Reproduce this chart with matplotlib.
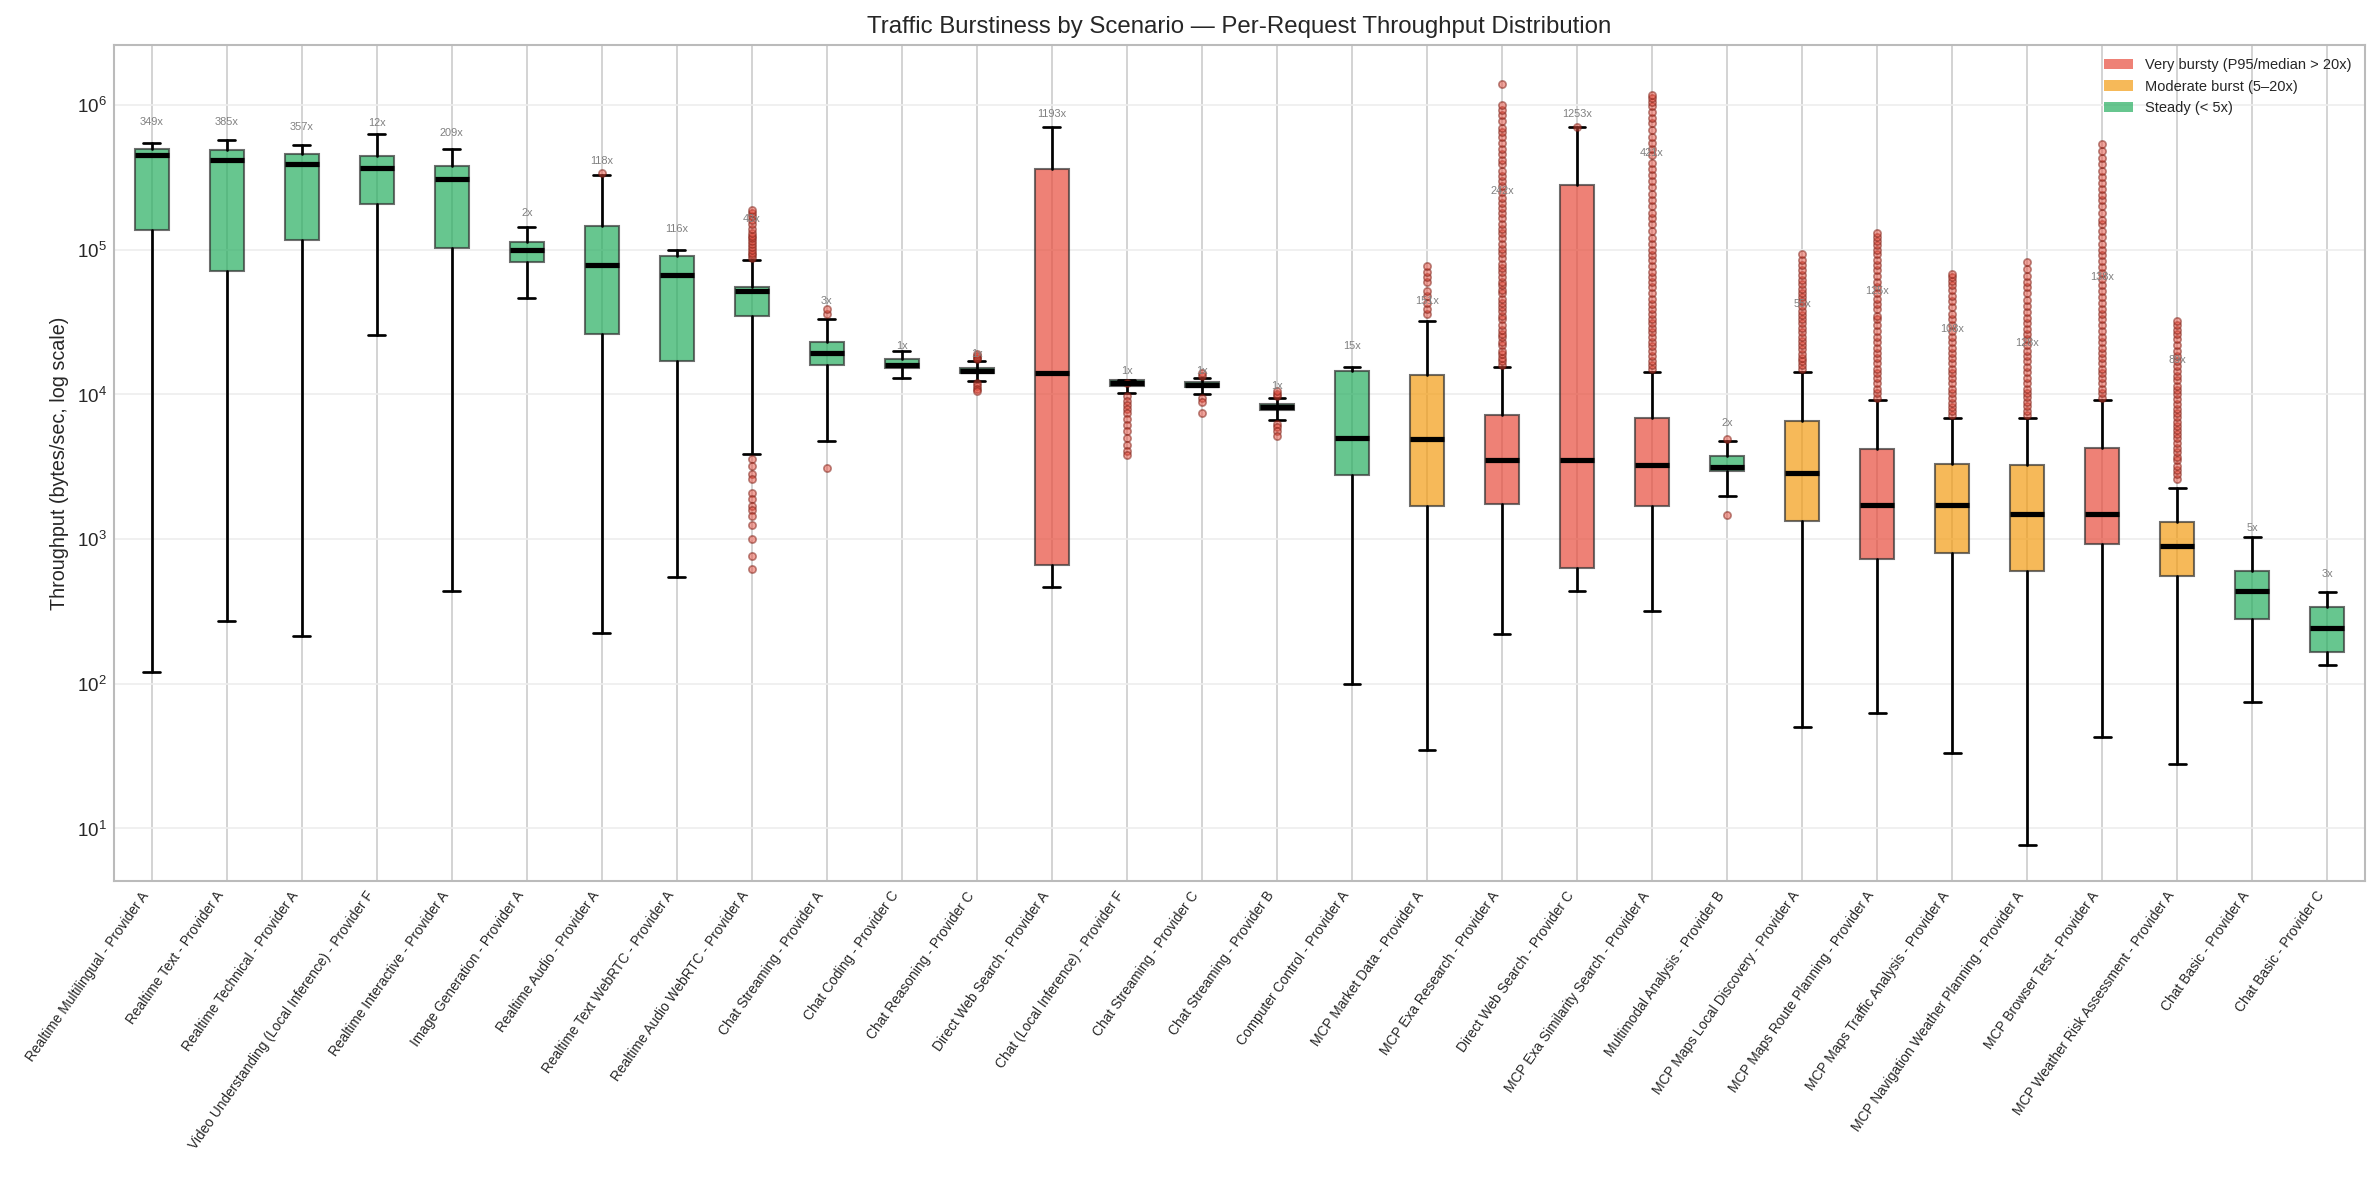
import matplotlib
matplotlib.use("Agg")
import matplotlib.pyplot as plt
from matplotlib.patches import Patch

plt.style.use("seaborn-v0_8-whitegrid")
plt.rcParams['font.family'] = ['Liberation Sans', 'DejaVu Sans']

scenarios = [
    "Realtime Multilingual - Provider A", "Realtime Text - Provider A", "Realtime Technical - Provider A",
    "Video Understanding (Local Inference) - Provider F", "Realtime Interactive - Provider A",
    "Image Generation - Provider A", "Realtime Audio - Provider A", "Realtime Text WebRTC - Provider A",
    "Realtime Audio WebRTC - Provider A", "Chat Streaming - Provider A", "Chat Coding - Provider C",
    "Chat Reasoning - Provider C", "Direct Web Search - Provider A", "Chat (Local Inference) - Provider F",
    "Chat Streaming - Provider C", "Chat Streaming - Provider B", "Computer Control - Provider A",
    "MCP Market Data - Provider A", "MCP Exa Research - Provider A", "Direct Web Search - Provider C",
    "MCP Exa Similarity Search - Provider A", "Multimodal Analysis - Provider B",
    "MCP Maps Local Discovery - Provider A", "MCP Maps Route Planning - Provider A",
    "MCP Maps Traffic Analysis - Provider A", "MCP Navigation Weather Planning - Provider A",
    "MCP Browser Test - Provider A", "MCP Weather Risk Assessment - Provider A",
    "Chat Basic - Provider A", "Chat Basic - Provider C",
]
whislo = [120, 270, 215, 2.57e4, 440, 4.65e4, 225, 550, 3.9e3, 4.8e3, 1.3e4, 1.24e4, 470, 1.03e4, 1.01e4,
          6.7e3, 100, 35, 220, 440, 320, 2.0e3, 50, 63, 33, 7.7, 43, 28, 75, 135]
q1 = [1.38e5, 7.1e4, 1.17e5, 2.08e5, 1.03e5, 8.3e4, 2.63e4, 1.7e4, 3.5e4, 1.6e4, 1.52e4, 1.4e4, 660, 1.15e4,
      1.12e4, 7.8e3, 2.76e3, 1.7e3, 1.74e3, 630, 1.7e3, 2.95e3, 1.33e3, 730, 800, 600, 930, 560, 280, 165]
med = [4.55e5, 4.2e5, 3.9e5, 3.7e5, 3.07e5, 1.0e5, 7.9e4, 6.7e4, 5.2e4, 1.95e4, 1.6e4, 1.46e4, 1.4e4, 1.2e4,
       1.17e4, 8.2e3, 5.0e3, 4.9e3, 3.55e3, 3.55e3, 3.25e3, 3.17e3, 2.87e3, 1.73e3, 1.73e3, 1.5e3, 1.5e3,
       890, 440, 245]
q3 = [5.0e5, 4.9e5, 4.6e5, 4.45e5, 3.8e5, 1.13e5, 1.47e5, 9.1e4, 5.5e4, 2.3e4, 1.75e4, 1.52e4, 3.6e5, 1.25e4,
      1.22e4, 8.6e3, 1.46e4, 1.37e4, 7.2e3, 2.8e5, 6.9e3, 3.76e3, 6.6e3, 4.2e3, 3.3e3, 3.25e3, 4.3e3, 1.32e3,
      600, 340]
whishi = [5.5e5, 5.7e5, 5.3e5, 6.3e5, 5.0e5, 1.44e5, 3.27e5, 1.0e5, 8.5e4, 3.3e4, 2.0e4, 1.7e4, 7.1e5, 1.25e4,
          1.3e4, 9.5e3, 1.55e4, 3.2e4, 1.55e4, 7.1e5, 1.42e4, 4.8e3, 1.42e4, 9.1e3, 6.9e3, 6.9e3, 9.1e3, 2.25e3,
          1.03e3, 430]
outliers = [
    [], [], [], [], [], [], [3.4e5], [],
    [8.8e4, 9.2e4, 9.5e4, 1.0e5, 1.05e5, 1.1e5, 1.15e5, 1.2e5, 1.25e5, 1.3e5, 1.4e5, 1.5e5, 1.6e5, 1.7e5,
     1.8e5, 1.9e5, 3.6e3, 3.2e3, 2.8e3, 2.6e3, 2.1e3, 1.9e3, 1.7e3, 1.6e3, 1.45e3, 1.25e3, 1.0e3, 760, 620],
    [3.6e4, 3.9e4, 3.1e3],
    [],
    [1.75e4, 1.8e4, 1.85e4, 1.9e4, 1.2e4, 1.15e4, 1.1e4, 1.05e4],
    [],
    [1.2e4, 9.8e3, 9e3, 8.5e3, 8e3, 7.5e3, 6.8e3, 6.2e3, 5.6e3, 5e3, 4.5e3, 4.1e3, 3.8e3],
    [1.35e4, 1.4e4, 9.5e3, 8.9e3, 7.5e3],
    [9.8e3, 1.0e4, 1.05e4, 6.3e3, 6.0e3, 5.6e3, 5.2e3],
    [],
    [3.6e4, 3.9e4, 4.3e4, 4.8e4, 5.2e4, 6.0e4, 6.5e4, 7.0e4, 7.7e4],
    [1.6e4, 1.7e4, 1.8e4, 1.9e4, 2.0e4, 2.2e4, 2.3e4, 2.5e4, 2.6e4, 2.8e4, 3.0e4, 3.3e4, 3.5e4, 3.8e4, 4.0e4,
     4.3e4, 4.6e4, 5.0e4, 5.3e4, 5.7e4, 6.0e4, 6.5e4, 7.0e4, 7.5e4, 8.0e4, 8.8e4, 9.5e4, 1.02e5, 1.1e5,
     1.2e5, 1.3e5, 1.4e5, 1.5e5, 1.65e5, 1.8e5, 1.95e5, 2.1e5, 2.3e5, 2.5e5, 2.75e5, 3.0e5, 3.25e5, 3.5e5,
     3.9e5, 4.2e5, 4.6e5, 5.0e5, 5.5e5, 6.0e5, 6.5e5, 7.0e5, 7.8e5, 8.5e5, 9.3e5, 1.0e6, 1.39e6],
    [7.1e5],
    [1.5e4, 1.6e4, 1.7e4, 1.85e4, 2.0e4, 2.15e4, 2.3e4, 2.5e4, 2.7e4, 2.9e4, 3.1e4, 3.35e4, 3.6e4, 3.9e4,
     4.2e4, 4.6e4, 5.0e4, 5.5e4, 6.0e4, 6.5e4, 7.0e4, 7.7e4, 8.5e4, 9.2e4, 1.0e5, 1.1e5, 1.2e5, 1.35e5,
     1.5e5, 1.65e5, 1.8e5, 2.0e5, 2.2e5, 2.45e5, 2.7e5, 3.0e5, 3.3e5, 3.6e5, 4.0e5, 4.5e5, 5.0e5, 5.5e5,
     6.0e5, 6.7e5, 7.5e5, 8.2e5, 9.0e5, 9.8e5, 1.05e6, 1.12e6, 1.18e6],
    [4.9e3, 1.48e3],
    [1.5e4, 1.6e4, 1.7e4, 1.8e4, 1.9e4, 2.05e4, 2.2e4, 2.35e4, 2.5e4, 2.7e4, 2.9e4, 3.1e4, 3.3e4, 3.55e4,
     3.8e4, 4.1e4, 4.4e4, 4.7e4, 5.0e4, 5.4e4, 5.8e4, 6.2e4, 6.7e4, 7.2e4, 7.8e4, 8.5e4, 9.4e4],
    [9.5e3, 1.03e4, 1.1e4, 1.2e4, 1.3e4, 1.4e4, 1.5e4, 1.65e4, 1.8e4, 1.95e4, 2.1e4, 2.3e4, 2.5e4, 2.75e4,
     3.0e4, 3.3e4, 3.5e4, 3.9e4, 4.2e4, 4.6e4, 5.0e4, 5.5e4, 6.0e4, 6.6e4, 7.2e4, 7.9e4, 8.5e4, 9.3e4,
     1.0e5, 1.08e5, 1.15e5, 1.22e5, 1.3e5],
    [7.2e3, 7.7e3, 8.2e3, 8.8e3, 9.5e3, 1.02e4, 1.1e4, 1.2e4, 1.3e4, 1.4e4, 1.5e4, 1.65e4, 1.8e4, 1.95e4,
     2.1e4, 2.3e4, 2.5e4, 2.75e4, 3.0e4, 3.3e4, 3.6e4, 4.0e4, 4.4e4, 4.8e4, 5.3e4, 5.7e4, 6.1e4, 6.5e4, 6.8e4],
    [7.2e3, 7.7e3, 8.3e3, 8.9e3, 9.6e3, 1.03e4, 1.1e4, 1.2e4, 1.3e4, 1.42e4, 1.55e4, 1.7e4, 1.85e4, 2.0e4,
     2.2e4, 2.4e4, 2.6e4, 2.85e4, 3.1e4, 3.4e4, 3.7e4, 4.1e4, 4.5e4, 5.0e4, 5.5e4, 6.0e4, 6.6e4, 7.4e4, 8.3e4],
    [9.5e3, 1.02e4, 1.1e4, 1.2e4, 1.3e4, 1.4e4, 1.5e4, 1.65e4, 1.8e4, 1.95e4, 2.1e4, 2.3e4, 2.5e4, 2.75e4,
     3.0e4, 3.3e4, 3.6e4, 3.9e4, 4.3e4, 4.7e4, 5.2e4, 5.7e4, 6.3e4, 6.9e4, 7.6e4, 8.4e4, 9.2e4, 1.0e5,
     1.1e5, 1.22e5, 1.35e5, 1.5e5, 1.6e5, 1.8e5, 2.0e5, 2.2e5, 2.4e5, 2.65e5, 2.9e5, 3.2e5, 3.5e5, 3.9e5,
     4.3e5, 4.8e5, 5.4e5],
    [2.6e3, 2.8e3, 3.0e3, 3.2e3, 3.5e3, 3.7e3, 4.0e3, 4.3e3, 4.6e3, 5.0e3, 5.3e3, 5.7e3, 6.1e3, 6.5e3,
     7.0e3, 7.5e3, 8.0e3, 8.6e3, 9.3e3, 1.0e4, 1.07e4, 1.15e4, 1.25e4, 1.35e4, 1.45e4, 1.57e4, 1.7e4,
     1.85e4, 2.0e4, 2.2e4, 2.4e4, 2.6e4, 2.8e4, 3.0e4, 3.2e4],
    [], [],
]
ratio_labels = ["349x", "385x", "357x", "12x", "209x", "2x", "118x", "116x", "43x", "3x", "1x", "1x", "1193x",
                "1x", "1x", "1x", "15x", "151x", "242x", "1253x", "421x", "2x", "55x", "125x", "108x", "128x",
                "138x", "89x", "5x", "3x"]
label_values = [7.1e5, 7.1e5, 6.5e5, 6.9e5, 5.9e5, 1.67e5, 3.8e5, 1.28e5, 1.5e5, 4.1e4, 2.0e4, 1.75e4, 8.0e5,
                1.35e4, 1.35e4, 1.05e4, 2.0e4, 4.1e4, 2.35e5, 8.0e5, 4.3e5, 5.9e3, 3.9e4, 4.8e4, 2.6e4, 2.1e4,
                6.0e4, 1.6e4, 1.1e3, 530]
categories = ["S", "S", "S", "S", "S", "S", "S", "S", "S", "S", "S", "S", "V", "S", "S", "S", "S", "M", "V", "V",
              "V", "S", "M", "V", "M", "M", "V", "M", "S", "S"]

cat_colors = {"V": "#e74c3c", "M": "#f39c12", "S": "#27ae60"}

fig = plt.figure(figsize=(15.86, 7.92), dpi=150)
ax = fig.add_axes([0.048, 0.258, 0.946, 0.704])

stats = []
for i in range(len(scenarios)):
    stats.append(dict(whislo=whislo[i], q1=q1[i], med=med[i], q3=q3[i], whishi=whishi[i], fliers=outliers[i]))

bp = ax.bxp(stats, positions=range(1, len(scenarios) + 1), widths=0.45, patch_artist=True,
            medianprops=dict(color="black", linewidth=2.5),
            whiskerprops=dict(color="black", linewidth=1.3),
            capprops=dict(color="black", linewidth=1.3),
            flierprops=dict(marker="o", markersize=3.5, markerfacecolor="#e74c3c", markeredgecolor="#7b1a10",
                            alpha=0.5, markeredgewidth=0.8),
            boxprops=dict(edgecolor="#333333", linewidth=1))
for patch, c in zip(bp["boxes"], categories):
    patch.set_facecolor(cat_colors[c])
    patch.set_alpha(0.7)

for i, (lab, v) in enumerate(zip(ratio_labels, label_values)):
    ax.text(i + 1, v, lab, ha="center", va="bottom", fontsize=5.3, color="gray")

ax.set_yscale("log")
ax.set_ylim(4.3, 2.6e6)
ax.set_xlim(0.5, len(scenarios) + 0.5)
ax.set_xticks(range(1, len(scenarios) + 1))
ax.set_xticklabels(scenarios, rotation=55, ha="right", fontsize=6.6)
ax.tick_params(axis="y", labelsize=9)
ax.set_ylabel("Throughput (bytes/sec, log scale)", fontsize=9.5)
ax.set_title("Traffic Burstiness by Scenario — Per-Request Throughput Distribution", fontsize=11.5)
ax.grid(axis="y", color="#eeeeee")
ax.grid(axis="x", color="#cccccc")
for s in ax.spines.values():
    s.set_visible(True)
    s.set_color("#bbbbbb")

handles = [Patch(facecolor=cat_colors["V"], alpha=0.7, label="Very bursty (P95/median > 20x)"),
           Patch(facecolor=cat_colors["M"], alpha=0.7, label="Moderate burst (5–20x)"),
           Patch(facecolor=cat_colors["S"], alpha=0.7, label="Steady (< 5x)")]
ax.legend(handles=handles, loc="upper right", fontsize=7, frameon=False)

fig.savefig("out.png", dpi=150)
